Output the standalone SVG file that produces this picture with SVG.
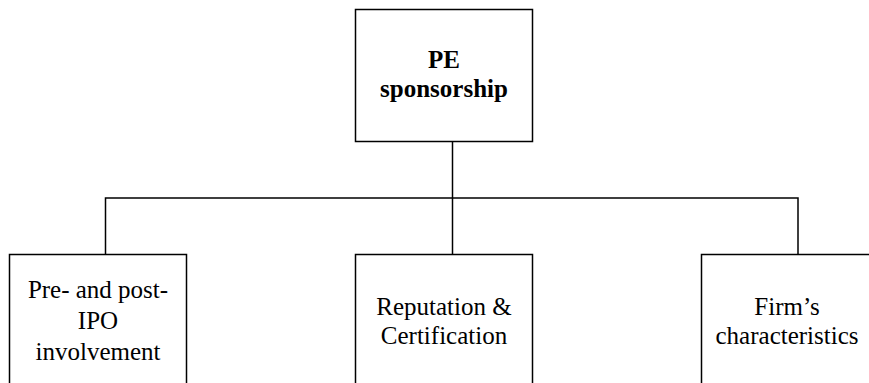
<svg xmlns="http://www.w3.org/2000/svg" width="869" height="383" viewBox="0 0 869 383">
<style>
.box{fill:#fff;stroke:#000;stroke-width:1.5}
.conn{fill:none;stroke:#000;stroke-width:1.5}
text{font-family:"Liberation Serif","Times New Roman",serif;font-size:25px;fill:#000;text-anchor:middle}
.b{font-weight:bold}
</style>
<rect width="869" height="383" fill="#fff"/>
<g id="connectors">
<path class="conn" d="M452.5,141.5 V198"/>
<path class="conn" d="M105.5,254 V198 H798 V254"/>
<path class="conn" d="M452.5,198 V254"/>
</g>
<g id="pe-sponsorship">
<rect class="box" x="355.5" y="9.5" width="177" height="132"/>
<text class="b" x="444" y="68">PE</text>
<text class="b" x="444" y="97">sponsorship</text>
</g>
<g id="pre-post-ipo">
<rect class="box" x="9.5" y="254.5" width="177" height="140"/>
<text x="98" y="298">Pre- and post-</text>
<text x="98" y="329">IPO</text>
<text x="98" y="360">involvement</text>
</g>
<g id="reputation">
<rect class="box" x="355.5" y="254.5" width="177" height="140"/>
<text x="444" y="315">Reputation &amp;</text>
<text x="444" y="344">Certification</text>
</g>
<g id="firm">
<rect class="box" x="701.5" y="254.5" width="177" height="140"/>
<text x="787" y="315">Firm’s</text>
<text x="787" y="344">characteristics</text>
</g>
</svg>
